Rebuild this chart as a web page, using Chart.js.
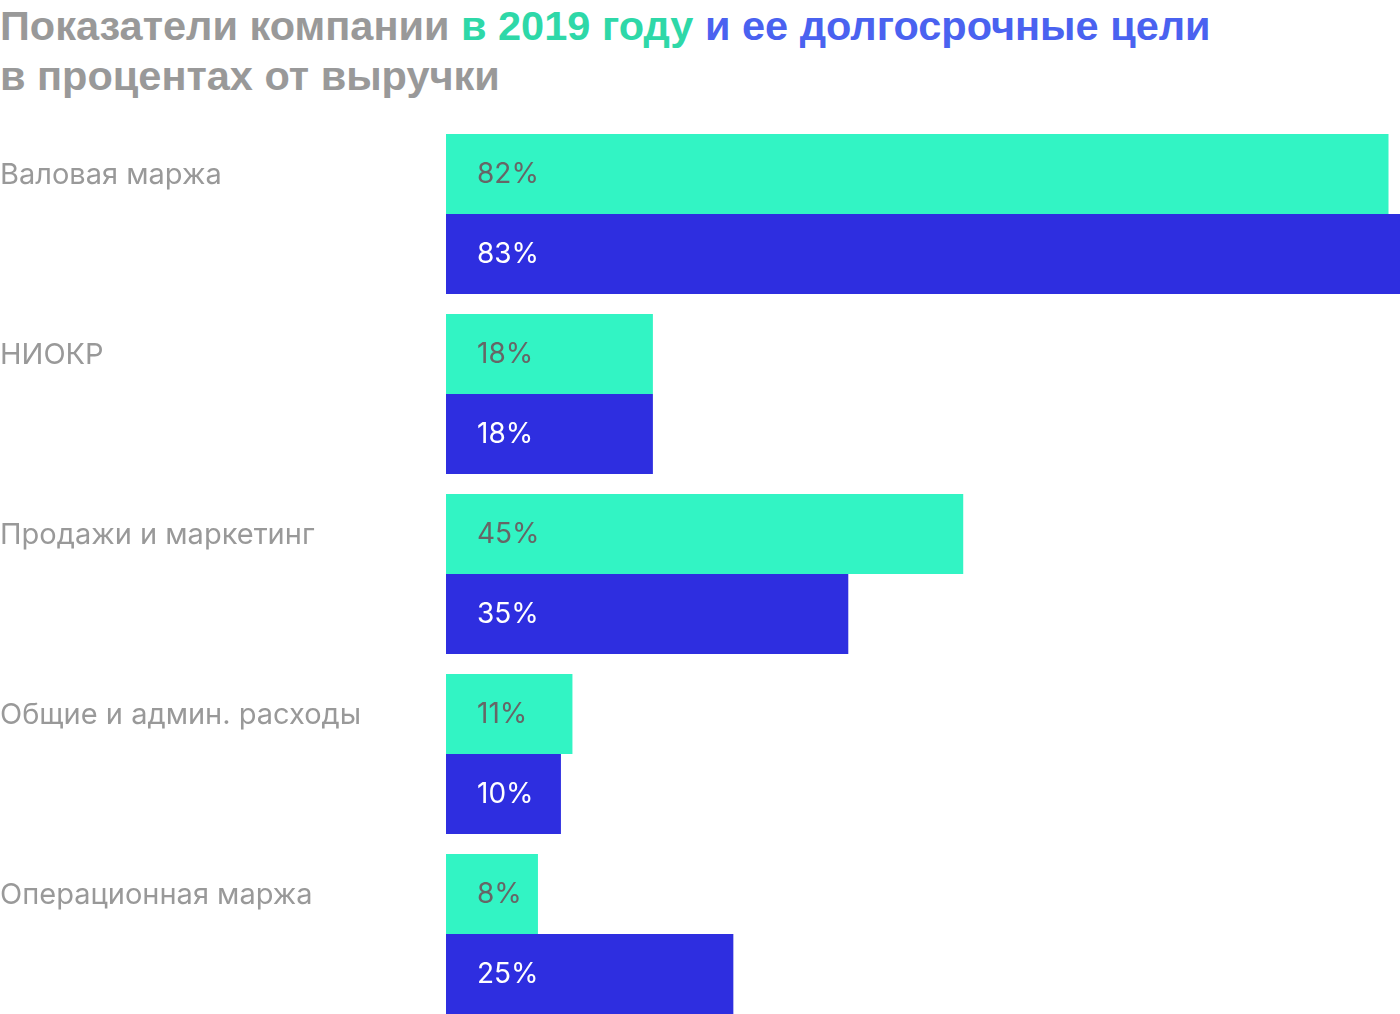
<!DOCTYPE html>
<html>
<head>
<meta charset="utf-8">
<script src="https://cdn.jsdelivr.net/npm/chart.js@4"></script>
<style>
  html, body { margin: 0; padding: 0; background: #fff; overflow: hidden; }
  #title {
    position: absolute; left: 0; top: 1px;
    font-family: "Liberation Sans", Arial, sans-serif; font-weight: 700; font-size: 41.5px;
    line-height: 50px; color: #999999;
  }
  .g { color: #2ed8a8; }
  .b { color: #4a62f0; }
  #myChart { position: absolute; left: 0; top: 0; }
</style>
</head>
<body>
<div id="title">Показатели компании <span class="g">в 2019 году</span> <span class="b">и ее долгосрочные цели</span><br>в процентах от выручки</div>
<canvas id="myChart" width="1400" height="1024"></canvas>
<script>
const categorias = ['Валовая маржа', 'НИОКР', 'Продажи и маркетинг', 'Общие и админ. расходы', 'Операционная маржа'];
const valores2019 = [82, 18, 45, 11, 8];
const valoresMeta = [83, 18, 35, 10, 25];

// etiquetas dentro de las barras
const etiquetasPlugin = {
  id: 'etiquetas',
  afterDatasetsDraw(chart) {
    const c = chart.ctx;
    c.save();
    c.font = '28px Inter, sans-serif';
    c.textBaseline = 'middle';
    c.textAlign = 'left';
    chart.data.datasets.forEach((ds, i) => {
      const meta = chart.getDatasetMeta(i);
      meta.data.forEach((bar, j) => {
        c.fillStyle = i === 0 ? '#666666' : '#ffffff';
        c.fillText(ds.data[j] + '%', chart.chartArea.left + 31, bar.y + 1);
      });
    });
    c.restore();
  }
};

const ctx = document.getElementById('myChart');
new Chart(ctx, {
  type: 'bar',
  data: {
    labels: categorias,
    datasets: [
      { data: valores2019, backgroundColor: '#32f4c4', categoryPercentage: 160 / 180, barPercentage: 1 },
      { data: valoresMeta, backgroundColor: '#2e2ee0', categoryPercentage: 160 / 180, barPercentage: 1 }
    ]
  },
  options: {
    indexAxis: 'y',
    responsive: false,
    animation: false,
    layout: { padding: { top: 124, right: 0, bottom: 0, left: 0 } },
    scales: {
      x: {
        display: false,
        min: 0,
        max: 83
      },
      y: {
        grid: { display: false, drawTicks: false },
        border: { display: false },
        afterFit: (s) => { s.width = 446; s.paddingTop = 0; s.paddingBottom = 0; },
        ticks: {
          crossAlign: 'far',
          labelOffset: -39,
          color: '#999999',
          font: { family: 'Inter, sans-serif', size: 29 }
        }
      }
    },
    plugins: {
      legend: { display: false },
      tooltip: { enabled: false }
    }
  },
  plugins: [etiquetasPlugin]
});
</script>
</body>
</html>
